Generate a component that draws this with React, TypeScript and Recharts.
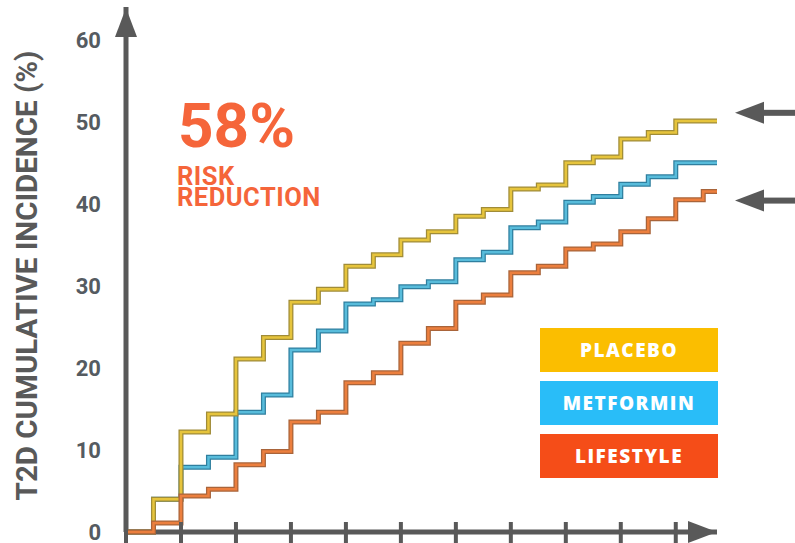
import React from "react";
import {
  LineChart,
  Line,
  XAxis,
  YAxis,
  Legend,
  ReferenceDot,
  Customized,
} from "recharts";

// half-year steps, last entry is where the curves stop
const steps = [0, 1, 2, 3, 4, 5, 6, 7, 8, 9, 10, 11, 12, 13, 14, 15, 16, 17, 18, 19, 20, 21, 21.5];
const placebo = [0, 4.0, 12.2, 14.4, 21.1, 23.7, 28.0, 29.6, 32.4, 33.8, 35.6, 36.6, 38.5, 39.3, 41.8, 42.3, 45.0, 45.7, 47.9, 48.7, 50.1, 50.1, 50.1];
const metformin = [0, 4.0, 7.9, 9.1, 14.6, 16.7, 22.2, 24.5, 27.8, 28.3, 29.9, 30.5, 33.2, 34.1, 37.1, 37.8, 40.2, 40.9, 42.4, 43.3, 45.0, 45.0, 45.0];
const lifestyle = [0, 1.1, 4.4, 5.2, 8.2, 9.8, 13.4, 14.6, 18.2, 19.4, 23.0, 24.8, 28.0, 28.9, 31.6, 32.4, 34.5, 35.1, 36.6, 38.2, 40.5, 41.5, 41.5];

const yTicks = [0, 10, 20, 30, 40, 50, 60];
const xTicks = [0, 2, 4, 6, 8, 10, 12, 14, 16, 18, 20];
const pointerLevels = [51.1, 40.4];

const legendItems = [
  { label: "PLACEBO", color: "#FBBE00" },
  { label: "METFORMIN", color: "#29BDF8" },
  { label: "LIFESTYLE", color: "#F54D18" },
];

// drawn bottom to top: edge colour, core colour
const series = [
  { key: "metformin", edge: "#2F7F9F", core: "#58BCDB" },
  { key: "placebo", edge: "#A08C38", core: "#E6C43C" },
  { key: "lifestyle", edge: "#A9643A", core: "#EC7F3E" },
];

const data = steps.map((x, i) => ({
  x,
  placebo: placebo[i],
  metformin: metformin[i],
  lifestyle: lifestyle[i],
}));

const AXIS = "#595959";

function XTick(props: any) {
  const { x, y } = props;
  return <line x1={x} x2={x} y1={y - 10} y2={y + 11} stroke={AXIS} strokeWidth={4} />;
}

function UpArrow(props: any) {
  const { cx, cy } = props;
  return <path d={`M${cx},${cy + 1} L${cx + 11},${cy + 30} L${cx - 11},${cy + 30} Z`} fill={AXIS} />;
}

function RightArrow(props: any) {
  const { cx, cy } = props;
  return <path d={`M${cx},${cy} L${cx - 29},${cy - 11} L${cx - 29},${cy + 11} Z`} fill={AXIS} />;
}

function Pointer(props: any) {
  const { cx, cy } = props;
  const tip = cx + 18;
  return (
    <g fill={AXIS}>
      <path d={`M${tip},${cy} L${tip + 29},${cy - 11} L${tip + 29},${cy + 11} Z`} />
      <rect x={tip + 27} y={cy - 3} width={60} height={6} />
    </g>
  );
}

function YTitle(props: any) {
  const vb = props.viewBox || { x: 0 };
  return (
    <text
      transform={`translate(${vb.x + 37}, 275.5) rotate(-90)`}
      textAnchor="middle"
      fontFamily="Roboto"
      fontWeight={700}
      fontSize={29.5}
      fill={AXIS}
    >
      T2D CUMULATIVE INCIDENCE (%)
    </text>
  );
}

function Annotation() {
  return (
    <g fontFamily="Roboto" fontWeight={700} fill="#F5653A">
      <text x={178} y={147} fontSize={62}>58%</text>
      <text x={177} y={185} fontSize={25.5} letterSpacing={0.5}>RISK</text>
      <text x={177} y={206} fontSize={25.5} letterSpacing={0.5}>REDUCTION</text>
    </g>
  );
}

function LegendBoxes() {
  return (
    <div style={{ width: 178 }}>
      {legendItems.map((it) => (
        <div
          key={it.label}
          style={{
            background: it.color,
            height: 44,
            lineHeight: "44px",
            marginBottom: 9,
            color: "#fff",
            textAlign: "center",
            fontFamily: "'Open Sans'",
            fontWeight: 800,
            fontSize: 19,
            letterSpacing: 1.5,
          }}
        >
          {it.label}
        </div>
      ))}
    </div>
  );
}

export default function App() {
  return (
    <div style={{ position: "absolute", left: 0, top: 0, width: 795, height: 543, background: "#fff" }}>
      <LineChart
        width={795}
        height={543}
        data={data}
        margin={{ top: 7, right: 78, bottom: 0, left: 0 }}
      >
        <XAxis
          type="number"
          dataKey="x"
          domain={[0, 21.5]}
          ticks={xTicks}
          interval={0}
          height={11}
          tickSize={0}
          tickMargin={0}
          tickLine={false}
          tick={<XTick />}
          axisLine={{ stroke: AXIS, strokeWidth: 5 }}
        />
        <YAxis
          type="number"
          domain={[0, 64]}
          ticks={yTicks}
          interval={0}
          width={126}
          tickSize={0}
          tickMargin={25}
          tickLine={false}
          axisLine={{ stroke: AXIS, strokeWidth: 5 }}
          tick={{ fill: "#555B61", fontSize: 22, fontWeight: 700, fontFamily: "Roboto" }}
          label={{ content: <YTitle /> }}
        />
        {series.flatMap((s) => [
          <Line
            key={s.key + "-edge"}
            type="stepAfter"
            dataKey={s.key}
            stroke={s.edge}
            strokeWidth={5}
            dot={false}
            activeDot={false}
            isAnimationActive={false}
            legendType="none"
            zIndex={600}
          />,
          <Line
            key={s.key + "-core"}
            type="stepAfter"
            dataKey={s.key}
            stroke={s.core}
            strokeWidth={2.5}
            dot={false}
            activeDot={false}
            isAnimationActive={false}
            legendType="none"
            zIndex={600}
          />,
        ])}
        <ReferenceDot x={0} y={64} r={0} ifOverflow="visible" shape={<UpArrow />} />
        <ReferenceDot x={21.5} y={0} r={0} ifOverflow="visible" shape={<RightArrow />} />
        {pointerLevels.map((v) => (
          <ReferenceDot key={v} x={21.5} y={v} r={0} ifOverflow="visible" shape={<Pointer />} />
        ))}
        <Customized component={<Annotation />} />
        <Legend
          layout="vertical"
          align="center"
          verticalAlign="middle"
          content={<LegendBoxes />}
          wrapperStyle={{ left: 540, top: 328, width: 178 }}
        />
      </LineChart>
    </div>
  );
}
